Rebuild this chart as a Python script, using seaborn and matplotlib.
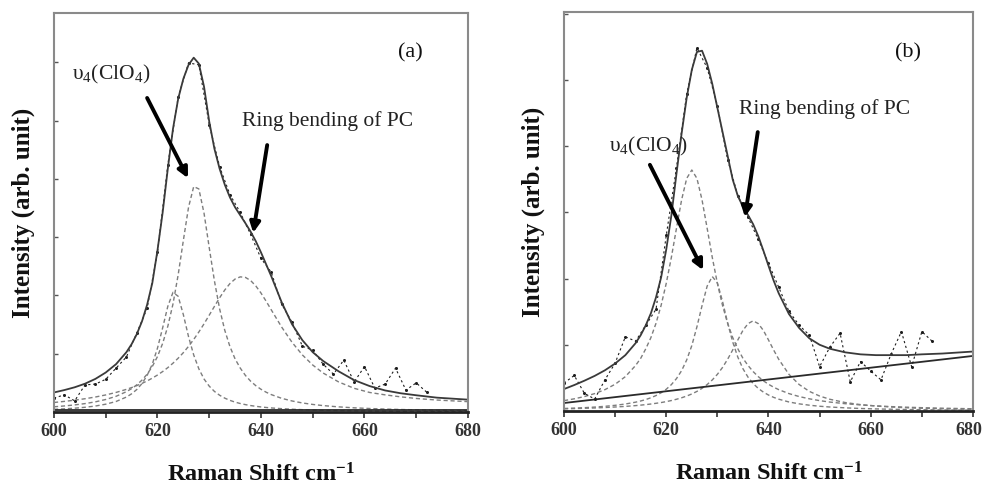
import numpy as np
import pandas as pd
import matplotlib
matplotlib.use("Agg")
import matplotlib.pyplot as plt
import matplotlib.transforms as mtransforms
from matplotlib.ticker import MultipleLocator, NullFormatter
import seaborn as sns

# ---------------- data ----------------
raman_shift = [600, 602, 604, 606, 608, 610, 612,
               614, 615, 616, 617, 618, 619, 620, 621, 622, 623,
               624, 625, 626, 627, 628, 629, 630,
               631, 632, 633, 634, 635, 636,
               637, 638, 639, 640, 641, 642,
               644, 646, 648, 650, 652, 655, 658, 661, 664, 667, 670, 674, 680]

# panel (a)
fit_a = [4.9, 5.5, 6.2, 7.1, 8.3, 9.9, 12.0,
         15.0, 17.0, 19.5, 22.7, 26.9, 32.3, 40.5, 50.0, 61.0, 71.0,
         78.5, 83.5, 87.0, 88.8, 87.3, 81.5, 72.8,
         66.0, 61.0, 57.0, 53.8, 51.3, 49.3,
         47.3, 45.2, 42.8, 40.0, 37.0, 34.0,
         27.5, 22.0, 18.0, 15.0, 12.8, 10.2, 8.0, 6.5, 5.4, 4.7, 4.2, 3.6, 3.1]
v4_a = [1.31, 1.52, 1.78, 2.11, 2.55, 3.14, 3.94,
        5.10, 5.86, 6.81, 7.99, 9.48, 11.4, 13.9, 17.2, 21.5, 27.1,
        34.4, 43.0, 51.3, 56.5, 55.9, 49.8, 41.2,
        32.9, 25.9, 20.5, 16.4, 13.3, 11.0,
        9.16, 7.73, 6.60, 5.70, 4.96, 4.36,
        3.43, 2.77, 2.27, 1.90, 1.61, 1.29, 1.05, 0.88, 0.74, 0.63, 0.55, 0.46, 0.36]
low_a = [0.67, 0.79, 0.96, 1.19, 1.50, 1.96, 2.64,
         3.75, 4.56, 5.64, 7.12, 9.18, 12.0, 16.0, 21.1, 26.5, 30.0,
         29.0, 24.4, 18.9, 14.3, 10.8, 8.27, 6.48,
         5.17, 4.21, 3.48, 2.92, 2.48, 2.13,
         1.85, 1.62, 1.43, 1.27, 1.14, 1.02,
         0.84, 0.70, 0.59, 0.51, 0.44, 0.36, 0.30, 0.26, 0.22, 0.19, 0.17, 0.14, 0.11]
pc_a = [2.39, 2.66, 2.97, 3.33, 3.76, 4.28, 4.91,
        5.68, 6.12, 6.62, 7.17, 7.79, 8.49, 9.27, 10.14, 11.13, 12.24,
        13.49, 14.88, 16.45, 18.18, 20.07, 22.11, 24.27,
        26.46, 28.61, 30.57, 32.19, 33.33, 33.87,
        33.73, 32.95, 31.6, 29.82, 27.76, 25.58,
        21.28, 17.47, 14.31, 11.78, 9.78, 7.54, 5.94, 4.9, 4.3, 3.8, 3.4, 3.0, 2.6]
base_a_x = [600, 680]
base_a_y = [0.6, 0.6]

data_x = [600, 602, 604, 606, 608, 610, 612, 614, 616, 618, 620, 622, 624, 626,
          628, 630, 632, 634, 636, 638, 640, 642, 644, 646, 648, 650, 652, 654,
          656, 658, 660, 662, 664, 666, 668, 670, 672]
data_a = [3.5, 4.3, 2.8, 6.8, 7.0, 8.2, 11.0, 13.8, 19.8, 26.0, 40.0, 62.0, 79.0, 87.5,
          87.0, 72.0, 61.5, 54.5, 50.0, 44.5, 38.5, 35.0, 27.0, 22.5, 16.5, 15.5, 12.0, 9.5,
          13.0, 7.5, 11.4, 6.0, 7.0, 11.0, 5.5, 7.3, 5.0]

# panel (b)
fit_b = [5.5, 6.5, 7.6, 8.8, 10.2, 11.9, 14.0,
         17.0, 19.0, 21.5, 24.5, 28.5, 33.5, 40.5, 49.0, 59.5, 69.5,
         78.5, 85.5, 90.0, 90.3, 87.0, 82.0, 76.0,
         70.0, 64.0, 58.0, 53.9, 51.2, 49.1,
         46.8, 43.8, 40.2, 36.4, 32.7, 29.5,
         24.3, 20.8, 18.2, 16.6, 15.6, 14.7, 14.2, 14.0, 14.0, 14.0, 14.2, 14.4, 14.9]
v4_b = [2.60, 3.05, 3.62, 4.36, 5.35, 6.70, 8.61,
        11.4, 13.2, 15.6, 18.4, 22.0, 26.5, 32.0, 38.5, 45.8, 52.9,
        58.3, 60.4, 58.3, 52.9, 45.8, 38.5, 32.0,
        26.5, 22.0, 18.4, 15.6, 13.2, 11.4,
        9.87, 8.61, 7.57, 6.70, 5.97, 5.35,
        4.36, 3.62, 3.05, 2.60, 2.24, 1.83, 1.52, 1.28, 1.10, 0.95, 0.83, 0.70, 0.56]
mid_b = [0.63, 0.72, 0.83, 0.98, 1.17, 1.42, 1.75,
         2.21, 2.51, 2.87, 3.32, 3.87, 4.57, 5.45, 6.61, 8.12, 10.1,
         12.8, 16.4, 21.1, 26.4, 31.3, 33.7, 32.1,
         27.5, 22.1, 17.3, 13.5, 10.6, 8.47,
         6.88, 5.66, 4.73, 4.0, 3.42, 2.96,
         2.26, 1.79, 1.45, 1.19, 1.0, 0.79, 0.63, 0.52, 0.44, 0.37, 0.32, 0.27, 0.21]
pc_b = [0.54, 0.60, 0.68, 0.76, 0.87, 1.0, 1.15,
        1.35, 1.47, 1.60, 1.75, 1.93, 2.12, 2.35, 2.62, 2.94, 3.31,
        3.75, 4.27, 4.91, 5.68, 6.63, 7.78, 9.19,
        10.9, 12.96, 15.3, 17.8, 20.2, 21.9,
        22.6, 21.9, 20.2, 17.8, 15.3, 12.96,
        9.19, 6.63, 4.91, 3.75, 2.94, 2.12, 1.60, 1.25, 1.0, 0.81, 0.68, 0.54, 0.40]
base_b_x = [600, 680]
base_b_y = [2.0, 13.8]
data_b = [7.0, 8.9, 4.4, 3.0, 7.8, 12.0, 18.6, 17.5, 21.5, 25.5, 44.0, 61.0, 79.5, 91.0,
          86.0, 76.5, 63.0, 54.0, 48.5, 43.0, 37.0, 31.0, 25.0, 21.5, 19.0, 11.1, 16.0, 19.5,
          7.3, 12.4, 10.0, 7.8, 14.3, 19.9, 11.1, 19.9, 17.5]

x_ticks = [600, 620, 640, 660, 680]
x_labels = ["600", "620", "640", "660", "680"]

# ---------------- style ----------------
sns.set_theme(style="white")
plt.rcParams['font.family'] = ['Liberation Serif', 'DejaVu Serif']
plt.rcParams['mathtext.fontset'] = 'custom'
plt.rcParams['mathtext.rm'] = 'Liberation Serif'
plt.rcParams['mathtext.it'] = 'Liberation Serif:italic'
plt.rcParams['mathtext.bf'] = 'Liberation Serif:bold'

fig = plt.figure(figsize=(9.85, 4.88), dpi=100)
axA = fig.add_axes([0.0548, 0.1557, 0.4203, 0.8177])
axB = fig.add_axes([0.5726, 0.1578, 0.4152, 0.8176])

comp_color = '#7d7d7d'
fit_color = '#3a3a3a'


def draw_panel(ax, comps, fit, bx, by, dy, ytick_step):
    for c in comps:
        sns.lineplot(x=raman_shift, y=c, ax=ax, color=comp_color, lw=1.0,
                     linestyle=(0, (3, 2)), estimator=None, sort=False)
    sns.lineplot(x=bx, y=by, ax=ax, color='#2a2a2a', lw=1.3, estimator=None, sort=False)
    sns.lineplot(x=data_x, y=dy, ax=ax, color='#1e1e1e', lw=0.8,
                 linestyle=(0, (2, 2.5)), marker='o', markersize=2.2,
                 markeredgewidth=0, estimator=None, sort=False)
    sns.lineplot(x=raman_shift, y=fit, ax=ax, color=fit_color, lw=1.3,
                 estimator=None, sort=False)
    ax.set_xlim(600, 680)
    ax.set_ylim(0, 100)
    ax.set_xticks(x_ticks)
    ax.set_xticklabels(x_labels, fontsize=13, fontweight='bold')
    ax.xaxis.set_minor_locator(MultipleLocator(10))
    ax.set_yticks(np.arange(0, 100, ytick_step))
    ax.yaxis.set_major_formatter(NullFormatter())
    ax.tick_params(axis='x', which='both', direction='out', length=4, width=1.2,
                   colors='#333333', bottom=True, pad=4)
    ax.tick_params(axis='y', which='both', direction='in', length=3, width=1.0,
                   colors='#555555', left=True)
    for s in ['top', 'right', 'left']:
        ax.spines[s].set_color('#8a8a8a')
        ax.spines[s].set_linewidth(1.5)
    ax.spines['bottom'].set_color('#222222')
    ax.spines['bottom'].set_linewidth(2.0)
    ax.set_xlabel(r"Raman Shift cm$^{\mathbf{-1}}$", fontsize=17.5, fontweight='bold',
                  labelpad=17, color='#111111')
    ax.set_ylabel("Intensity (arb. unit)", fontsize=18, fontweight='bold',
                  labelpad=10, color='#111111')


draw_panel(axA, [v4_a, low_a, pc_a], fit_a, base_a_x, base_a_y, data_a, 14.6)
draw_panel(axB, [v4_b, mid_b, pc_b], fit_b, base_b_x, base_b_y, data_b, 16.6)

# keep the last tick label of panel (b) inside the figure
last_lbl = axB.get_xticklabels()[-1]
last_lbl.set_transform(last_lbl.get_transform() +
                       mtransforms.ScaledTranslation(-4 / 100, 0, fig.dpi_scale_trans))

arrow_kw = dict(arrowstyle='-|>', color='black', lw=2.8, mutation_scale=15,
                shrinkA=0, shrinkB=0)
ann_fs = 15.5

# annotations (a)
axA.text(611.0, 84.7, "υ$_4$(ClO$_4$)", fontsize=ann_fs, ha='center', va='center', color='#222')
axA.annotate('', xy=(625.9, 58.6), xytext=(618.0, 78.7), arrowprops=arrow_kw)
axA.text(652.9, 72.9, "Ring bending of PC", fontsize=ann_fs, ha='center', va='center', color='#222')
axA.annotate('', xy=(638.5, 44.9), xytext=(641.2, 66.9), arrowprops=arrow_kw)
axA.text(668.8, 90.0, "(a)", fontsize=16, ha='center', va='center', color='#111')

# annotations (b)
axB.text(616.4, 66.2, "υ$_4$(ClO$_4$)", fontsize=ann_fs, ha='center', va='center', color='#222')
axB.annotate('', xy=(627.2, 35.3), xytext=(616.8, 61.7), arrowprops=arrow_kw)
axB.text(650.9, 75.7, "Ring bending of PC", fontsize=ann_fs, ha='center', va='center', color='#222')
axB.annotate('', xy=(635.4, 48.6), xytext=(637.9, 69.9), arrowprops=arrow_kw)
axB.text(667.3, 89.7, "(b)", fontsize=16, ha='center', va='center', color='#111')

fig.savefig("out.png", dpi=100)
